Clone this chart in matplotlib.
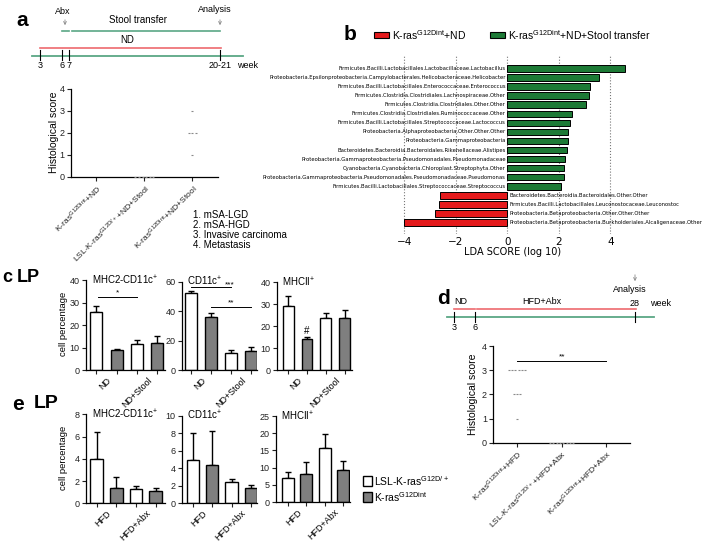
import numpy as np
import matplotlib
matplotlib.use('Agg')
import matplotlib.pyplot as plt
from matplotlib.patches import Rectangle

plt.rcParams['font.family'] = ['Liberation Sans', 'DejaVu Sans']
plt.rcParams['mathtext.fontset'] = 'custom'
plt.rcParams['mathtext.rm'] = 'Liberation Sans'
plt.rcParams['mathtext.it'] = 'Liberation Sans:italic'
plt.rcParams['mathtext.bf'] = 'Liberation Sans:bold'

# ---- data ----
# a: histological scores per mouse
a_groups = ['K-ras$^{\\mathrm{G12Dint}}$+ND', 'LSL-K-ras$^{\\mathrm{G12D/+}}$+ND+Stool',
            'K-ras$^{\\mathrm{G12Dint}}$+ND+Stool']
a_scores = [[], [0, 0, 0, 0, 0, 0], [3, 2, 2, 2, 1]]
a_weeks = ['3', '6', '7', '20-21']
score_legend = ['1. mSA-LGD', '2. mSA-HGD', '3. Invasive carcinoma', '4. Metastasis']

# b: LEfSe LDA scores
b_taxa = [
    'Firmicutes.Bacilli.Lactobacillales.Lactobacillaceae.Lactobacillus',
    'Proteobacteria.Epsilonproteobacteria.Campylobacterales.Helicobacteraceae.Helicobacter',
    'Firmicutes.Bacilli.Lactobacillales.Enterococcaceae.Enterococcus',
    'Firmicutes.Clostridia.Clostridiales.Lachnospiraceae.Other',
    'Firmicutes.Clostridia.Clostridiales.Other.Other',
    'Firmicutes.Clostridia.Clostridiales.Ruminococcaceae.Other',
    'Firmicutes.Bacilli.Lactobacillales.Streptococcaceae.Lactococcus',
    'Proteobacteria.Alphaproteobacteria.Other.Other.Other',
    'Proteobacteria.Gammaproteobacteria',
    'Bacteroidetes.Bacteroidia.Bacteroidales.Rikenellaceae.Alistipes',
    'Proteobacteria.Gammaproteobacteria.Pseudomonadales.Pseudomonadaceae',
    'Cyanobacteria.Cyanobacteria.Chloroplast.Streptophyta.Other',
    'Proteobacteria.Gammaproteobacteria.Pseudomonadales.Pseudomonadaceae.Pseudomonas',
    'Firmicutes.Bacilli.Lactobacillales.Streptococcaceae.Streptococcus',
    'Bacteroidetes.Bacteroidia.Bacteroidales.Other.Other',
    'Firmicutes.Bacilli.Lactobacillales.Leuconostocaceae.Leuconostoc',
    'Proteobacteria.Betaproteobacteria.Other.Other.Other',
    'Proteobacteria.Betaproteobacteria.Burkholderiales.Alcaligenaceae.Other',
]
b_lda = [4.58, 3.55, 3.21, 3.16, 3.06, 2.49, 2.45, 2.37, 2.35, 2.31, 2.22, 2.21, 2.21, 2.10,
         -2.61, -2.67, -2.79, -4.03]

# c: LP cell percentages (LSL white, K-ras grey)
c_titles = ['MHC2-CD11c$^{+}$', 'CD11c$^{+}$', 'MHCII$^{+}$']
c_mean = [[26.0, 8.8, 11.5, 12.0], [52.0, 35.7, 11.7, 13.1], [29.2, 14.0, 23.6, 23.6]]
c_sem = [[2.7, 0.4, 2.0, 3.0], [1.6, 2.7, 1.9, 2.7], [4.6, 0.9, 2.3, 3.8]]
c_groups = ['ND', 'ND+Stool']

# d
d_groups = ['K-ras$^{\\mathrm{G12Dint}}$+HFD', 'LSL-K-ras$^{\\mathrm{G12D/+}}$+HFD+Abx',
            'K-ras$^{\\mathrm{G12Dint}}$+HFD+Abx']
d_scores = [[3, 3, 3, 3, 3, 3, 2, 2, 2, 1], [0, 0, 0, 0, 0, 0, 0, 0], []]
d_weeks = ['3', '6', '28']

# e
e_mean = [[4.0, 1.35, 1.25, 1.1], [4.95, 4.4, 2.45, 1.75], [6.9, 8.05, 15.6, 9.3]]
e_sem = [[2.4, 1.05, 0.35, 0.3], [3.05, 3.8, 0.3, 0.3], [1.7, 3.65, 4.2, 2.7]]
e_groups = ['HFD', 'HFD+Abx']

W, H = 708, 543
fig = plt.figure(figsize=(W / 100, H / 100), dpi=100)

def px(l, t, r, b):
    return [l / W, 1 - b / H, (r - l) / W, (b - t) / H]

GREEN_TL = '#5aa785'
RED_TL = '#ee6a6e'
GREY = '#7f7f7f'

def style(ax):
    for s in ['top', 'right']:
        ax.spines[s].set_visible(False)
    for s in ['left', 'bottom']:
        ax.spines[s].set_linewidth(0.9)
    ax.tick_params(length=3, width=0.8, labelsize=6.5, pad=1.5, colors='#222222')

def scatter_panel(box, scores, labels, ymax=4):
    ax = fig.add_axes(px(*box))
    style(ax)
    for i, sc in enumerate(scores):
        for v in sorted(set(sc)):
            n = sc.count(v)
            off = (np.arange(n) - (n - 1) / 2) * 0.075
            ax.plot(i + off, [v] * n, ls='none', marker='_', ms=1.8, mew=0.8,
                    color='#8a8a8a', clip_on=False, zorder=3)
    ax.set_xlim(-0.53, 2.53)
    ax.set_ylim(0, ymax)
    ax.set_yticks(range(0, ymax + 1))
    ax.set_xticks(range(len(labels)))
    ax.set_xticklabels(labels, rotation=45, ha='right', rotation_mode='anchor', fontsize=6.1)
    return ax

def bar_panel(box, mean, sem, ylim, yticks, title, xlim, width, groups):
    ax = fig.add_axes(px(*box))
    style(ax)
    x = np.arange(len(mean))
    cols = ['white', GREY, 'white', GREY]
    ax.errorbar(x, mean, yerr=[np.zeros(len(mean)), sem], fmt='none', ecolor='black',
                elinewidth=1, capsize=2.3, capthick=1, zorder=1)
    ax.bar(x, mean, width, color=cols, edgecolor='black', linewidth=1, zorder=2)
    ax.set_xlim(*xlim)
    ax.set_ylim(*ylim)
    ax.set_yticks(yticks)
    ax.set_xticks(x)
    ax.set_xticklabels([])
    ax.set_xticks([0.5, 2.5], minor=True)
    ax.set_xticklabels(groups, minor=True, rotation=45, ha='right', rotation_mode='anchor',
                       fontsize=6.5)
    ax.tick_params(axis='x', which='minor', length=0, pad=4)
    ax.text(0.07, 1.0, title, transform=ax.transAxes, fontsize=7, ha='left', va='center')
    return ax

def sig(ax, x0, x1, y, txt, dy, xt=None):
    ax.plot([x0, x1], [y, y], color='black', lw=0.7, clip_on=False)
    xt = (x0 + x1) / 2 if xt is None else xt
    ax.text(xt, y + dy, txt, ha='center', va='bottom', fontsize=6, clip_on=False)

# ---- a: scatter ----
axa = scatter_panel((70.7, 89, 218, 177), a_scores, a_groups)

# ---- b: LEfSe ----
axb = fig.add_axes(px(395, 56, 630, 234))
yb = np.arange(len(b_lda))
bcol = ['#1d7a36' if v > 0 else '#e41a1c' for v in b_lda]
axb.barh(yb, b_lda, height=0.75, color=bcol, edgecolor='black', linewidth=0.7, zorder=2)
axb.set_xlim(-4.36, 4.76)
axb.set_ylim(len(b_lda) - 1 + 1.3, -1.41)
axb.set_xticks([-4, -2, 0, 2, 4])
axb.set_yticks([])
axb.grid(axis='x', ls=':', color='#777777', lw=0.8)
axb.set_axisbelow(True)
for s in axb.spines.values():
    s.set_visible(False)
axb.tick_params(axis='x', length=0, labelsize=7.5, pad=2)
for lab in axb.get_xticklabels():
    lab.set_fontfamily('DejaVu Sans')
axb.set_xlabel('LDA SCORE (log 10)', fontsize=7, family='DejaVu Sans', labelpad=0)
for i, (t, v) in enumerate(zip(b_taxa, b_lda)):
    if v > 0:
        axb.text(-0.06, i, t, ha='right', va='center', fontsize=3.75, family='DejaVu Sans')
    else:
        axb.text(0.1, i, t, ha='left', va='center', fontsize=3.75, family='DejaVu Sans')

# ---- c ----
c_boxes = [(86, 280.3, 165, 370), (182, 281.7, 257, 370), (276.7, 282.3, 352, 370)]
c_ylims = [(0, 40), (0, 60), (0, 40)]
c_yt = [[0, 10, 20, 30, 40], [0, 20, 40, 60], [0, 10, 20, 30, 40]]
c_xlims = [(-0.51, 3.38), (-0.45, 3.29), (-0.62, 3.4)]
c_axes = []
for k in range(3):
    c_axes.append(bar_panel(c_boxes[k], c_mean[k], c_sem[k], c_ylims[k], c_yt[k],
                            c_titles[k], c_xlims[k], 0.58, c_groups))
sig(c_axes[0], 0.1, 2.0, 32.4, '*', 0.3)
sig(c_axes[1], 0.0, 2.0, 56.6, '***', -1.0, xt=1.95)
sig(c_axes[1], 1.0, 3.0, 43.0, '**', 0.3)
c_axes[2].text(1, 15.6, '#', ha='center', va='bottom', fontsize=7)

# ---- d: scatter ----
axd = scatter_panel((493.3, 346, 630, 442.7), d_scores, d_groups)
sig(axd, 0, 2, 3.37, '**', 0.03)

# ---- e ----
e_boxes = [(86, 414.4, 165, 503.3), (181.7, 415.6, 257, 503.3), (275.7, 416, 350, 502)]
e_ylims = [(0, 8), (0, 10), (0, 25)]
e_yt = [[0, 2, 4, 6, 8], [0, 2, 4, 6, 8, 10], [0, 5, 10, 15, 20, 25]]
e_xlims = [(-0.54, 3.47), (-0.57, 3.31), (-0.65, 3.36)]
for k in range(3):
    bar_panel(e_boxes[k], e_mean[k], e_sem[k], e_ylims[k], e_yt[k], c_titles[k],
              e_xlims[k], 0.64, e_groups)

# ---- overlay: letters, timelines, legends ----
ov = fig.add_axes([0, 0, 1, 1])
ov.set_xlim(0, W)
ov.set_ylim(H, 0)
ov.axis('off')

def letter(x, y, s, fs=15):
    ov.text(x, y, s, fontsize=fs, fontweight='bold', ha='center', va='center')

letter(22, 20, 'a')
letter(350, 35, 'b')
letter(7, 278, 'c', 13)
ov.text(28, 277, 'LP', fontsize=13, fontweight='bold', ha='center', va='center')
letter(443, 299, 'd')
letter(18, 405, 'e')
ov.text(46, 404, 'LP', fontsize=14, fontweight='bold', ha='center', va='center')

# timeline a
ov.plot([32, 243], [56, 56], color=GREEN_TL, lw=1.3)
for x, lab in zip([40, 62, 69, 220], a_weeks):
    ov.plot([x, x], [50, 59.5], color='black', lw=0.8)
    ov.text(x, 66, lab, ha='center', va='center', fontsize=6.5)
ov.text(237, 66, 'week', ha='left', va='center', fontsize=6.5)
ov.plot([40, 221], [47.5, 47.5], color=RED_TL, lw=1.2)
ov.text(127, 40, 'ND', ha='center', va='center', fontsize=7)
ov.plot([62, 69], [30.5, 30.5], color=GREEN_TL, lw=1.2)
ov.plot([72, 220], [30.5, 30.5], color=GREEN_TL, lw=1.2)
ov.text(138, 20, 'Stool transfer', ha='center', va='center', fontsize=7)
ov.text(63, 11, 'Abx', ha='center', va='center', fontsize=6.5)
ov.text(215, 10, 'Analysis', ha='center', va='center', fontsize=6.5)
for x in [65, 220]:
    ov.annotate('', xy=(x, 28), xytext=(x, 17),
                arrowprops=dict(arrowstyle='->', color='#888888', lw=0.6, mutation_scale=5))

# score legend
for i, s in enumerate(score_legend):
    ov.text(193, 215 + 10 * i, s, ha='left', va='center', fontsize=7)

ov.text(54, 132, 'Histological score', rotation=90, ha='center', va='center', fontsize=7.5)
ov.text(473, 394, 'Histological score', rotation=90, ha='center', va='center', fontsize=7.5)
ov.text(64, 324, 'cell percentage', rotation=90, ha='center', va='center', fontsize=6.8)
ov.text(64, 458, 'cell percentage', rotation=90, ha='center', va='center', fontsize=6.8)

# legend b
ov.add_patch(Rectangle((374, 32.3), 15, 5.4, facecolor='#e41a1c', edgecolor='black', lw=0.8))
ov.text(392, 35, 'K-ras$^{\\mathrm{G12Dint}}$+ND', ha='left', va='center', fontsize=7.5)
ov.add_patch(Rectangle((490, 32.3), 15, 5.4, facecolor='#1d7a36', edgecolor='black', lw=0.8))
ov.text(508, 35, 'K-ras$^{\\mathrm{G12Dint}}$+ND+Stool transfer', ha='left', va='center',
        fontsize=7.5)

# timeline d
ov.plot([446.7, 654], [316.7, 316.7], color=GREEN_TL, lw=1.3)
ov.plot([454, 475], [309, 309], color=RED_TL, lw=1.2)
ov.plot([477, 636], [309, 309], color=RED_TL, lw=1.2)
for x in [454, 475, 635]:
    ov.plot([x, x], [312, 322], color='black', lw=0.8)
ov.text(454, 327, d_weeks[0], ha='center', va='center', fontsize=6.5)
ov.text(475, 327, d_weeks[1], ha='center', va='center', fontsize=6.5)
ov.text(635, 304, d_weeks[2], ha='center', va='center', fontsize=6.5)
ov.text(650, 304, 'week', ha='left', va='center', fontsize=6.5)
ov.text(461, 302, 'ND', ha='center', va='center', fontsize=6.5)
ov.text(542, 302, 'HFD+Abx', ha='center', va='center', fontsize=6.5)
ov.text(630, 290, 'Analysis', ha='center', va='center', fontsize=6.5)
ov.annotate('', xy=(635, 284), xytext=(635, 272),
            arrowprops=dict(arrowstyle='->', color='#888888', lw=0.6, mutation_scale=5))

# legend e
ov.add_patch(Rectangle((363, 476), 9, 10, facecolor='white', edgecolor='black', lw=1))
ov.add_patch(Rectangle((363, 492), 9, 10, facecolor=GREY, edgecolor='black', lw=1))
ov.text(374, 481, 'LSL-K-ras$^{\\mathrm{G12D/+}}$', ha='left', va='center', fontsize=7.5)
ov.text(374, 497, 'K-ras$^{\\mathrm{G12Dint}}$', ha='left', va='center', fontsize=7.5)

fig.savefig('out.png', dpi=100)
